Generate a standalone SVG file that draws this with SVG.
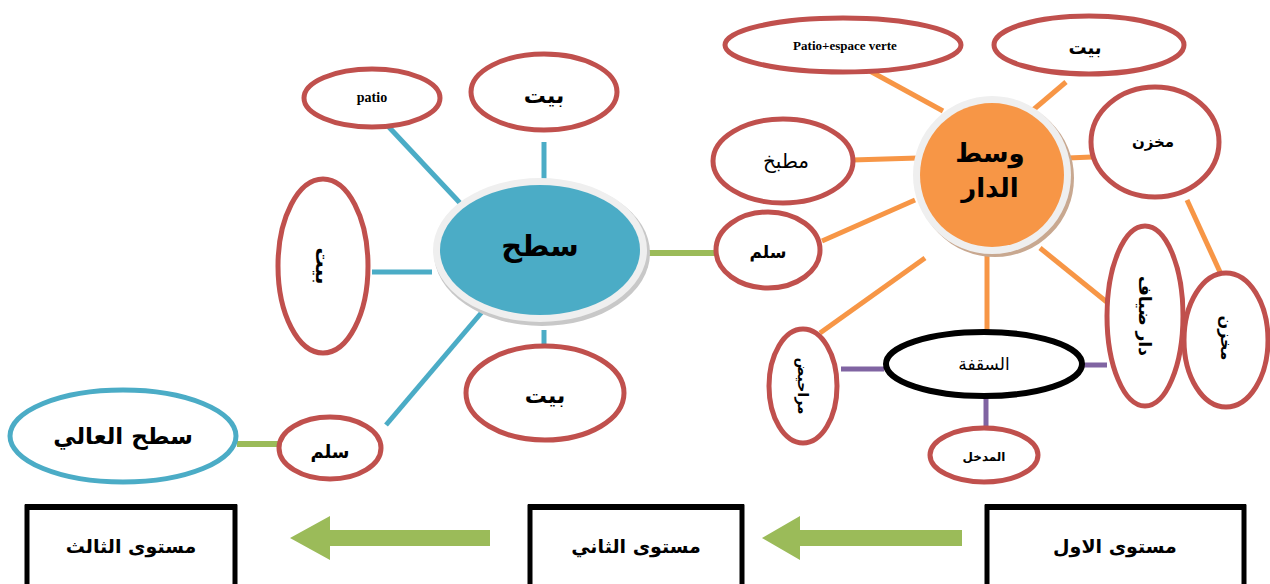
<svg xmlns="http://www.w3.org/2000/svg" width="1270" height="584" viewBox="0 0 1270 584">
<style>
.red{fill:#fff;stroke:#C0504D;stroke-width:5}
.blk{fill:#fff;stroke:#000;stroke-width:6}
.blu{fill:#fff;stroke:#4BACC6;stroke-width:5}
.ar{font-family:"DejaVu Sans",sans-serif;font-weight:bold;fill:#000;text-anchor:middle;dominant-baseline:central}
.lat{font-family:"Liberation Serif",serif;font-weight:bold;fill:#000;text-anchor:middle;dominant-baseline:central}
.cb{stroke:#4BACC6;stroke-width:5}
.co{stroke:#F79646;stroke-width:5}
.cg{stroke:#9BBB59;stroke-width:6}
.cp{stroke:#8064A2;stroke-width:5}
.box{fill:#fff;stroke:#000;stroke-width:5}
</style>
<rect width="1270" height="584" fill="#fff"/>
<g id="connectors">
<line class="cb" x1="387" y1="125" x2="460" y2="203"/>
<line class="cb" x1="544" y1="142" x2="544" y2="186"/>
<line class="cb" x1="372" y1="272" x2="432" y2="272"/>
<line class="cb" x1="544" y1="330" x2="544" y2="357"/>
<line class="cb" x1="386" y1="425" x2="482" y2="312"/>
<line class="cg" x1="648" y1="253" x2="724" y2="253"/>
<line class="cg" x1="237" y1="444" x2="282" y2="444"/>
<line class="co" x1="868" y1="70" x2="943" y2="111"/>
<line class="co" x1="1066" y1="82" x2="1033" y2="110"/>
<line class="co" x1="852" y1="160" x2="918" y2="158"/>
<line class="co" x1="1068" y1="158" x2="1092" y2="157"/>
<line class="co" x1="822" y1="241" x2="915" y2="200"/>
<line class="co" x1="987" y1="255" x2="987" y2="333"/>
<line class="co" x1="1040" y1="248" x2="1108" y2="303"/>
<line class="co" x1="820" y1="333" x2="925" y2="258"/>
<line class="co" x1="1187" y1="200" x2="1220" y2="272"/>
<line class="cp" x1="841" y1="369" x2="884" y2="369"/>
<line class="cp" x1="1068" y1="365" x2="1107" y2="365"/>
<line class="cp" x1="986" y1="398" x2="986" y2="430"/>
<polygon fill="#9BBB59" points="962,530 800,530 800,516 762,538 800,560 800,546 962,546"/>
<polygon fill="#9BBB59" points="490,530 330,530 330,516 290,538 330,560 330,546 490,546"/>
</g>
<g id="n-satah">
<ellipse cx="542" cy="253" rx="108" ry="73" fill="#c8c8c8"/>
<ellipse cx="540" cy="250" rx="107" ry="72" fill="#efefef"/>
<ellipse cx="540" cy="250" rx="100" ry="65" fill="#4BACC6"/>
<text class="ar" x="540" y="246" font-size="29">سطح</text>
</g>
<g id="n-patio"><ellipse class="red" cx="372" cy="98" rx="68" ry="29"/><text class="lat" x="372" y="97" font-size="14">patio</text></g>
<g id="n-bayt1"><ellipse class="red" cx="544" cy="92" rx="73" ry="38"/><text class="ar" x="544" y="95" font-size="22">بيت</text></g>
<g id="n-left"><ellipse class="red" cx="323" cy="266" rx="45" ry="87"/><text class="ar" x="323" y="266" font-size="20" transform="rotate(90 323 266)">بيت</text></g>
<g id="n-bayt2"><ellipse class="red" cx="545" cy="393" rx="79" ry="47"/><text class="ar" x="545" y="395" font-size="22">بيت</text></g>
<g id="n-sullam1"><ellipse class="red" cx="330" cy="448" rx="51" ry="31"/><text class="ar" x="330" y="451" font-size="18">سلم</text></g>
<g id="n-satah-ali"><ellipse class="blu" cx="123" cy="436" rx="113" ry="46"/><text class="ar" x="123" y="436" font-size="23">سطح العالي</text></g>
<g id="n-wast">
<circle cx="995" cy="178" r="79" fill="#c8a890"/>
<circle cx="992" cy="175" r="79" fill="#efefef"/>
<circle cx="992" cy="175" r="72" fill="#F79646"/>
<text class="ar" x="990" y="153" font-size="26">وسط</text>
<text class="ar" x="990" y="188" font-size="26">الدار</text>
</g>
<g id="n-sullam2"><ellipse class="red" cx="768" cy="250" rx="52" ry="38"/><text class="ar" x="768" y="252" font-size="17">سلم</text></g>
<g id="n-matbakh"><ellipse class="red" cx="783" cy="161" rx="70" ry="42"/><text class="ar" x="786" y="161" font-size="20" style="font-weight:normal">مطبخ</text></g>
<g id="n-patio2"><ellipse class="red" cx="843" cy="45" rx="118" ry="27"/><text class="lat" x="845" y="45" font-size="13">Patio+espace verte</text></g>
<g id="n-bayt3"><ellipse class="red" cx="1089" cy="45" rx="95" ry="29"/><text class="ar" x="1085" y="47" font-size="18">بيت</text></g>
<g id="n-makhzan1"><ellipse class="red" cx="1155" cy="142" rx="64" ry="55"/><text class="ar" x="1153" y="142" font-size="15">مخزن</text></g>
<g id="n-diyafa"><ellipse class="red" cx="1145" cy="316" rx="38" ry="90"/><text class="ar" x="1145" y="316" font-size="17" transform="rotate(90 1145 316)">دار ضياف</text></g>
<g id="n-makhzan2"><ellipse class="red" cx="1226" cy="340" rx="42" ry="67"/><text class="ar" x="1226" y="338" font-size="16" transform="rotate(90 1226 338)">مخزن</text></g>
<g id="n-saqifa"><ellipse class="blk" cx="984" cy="364" rx="98" ry="32"/><text class="ar" x="984" y="364" font-size="17" style="font-weight:normal">السقفة</text></g>
<g id="n-marahid"><ellipse class="red" cx="803" cy="386" rx="34" ry="57"/><text class="ar" x="803" y="386" font-size="14" transform="rotate(90 803 386)">مراحيض</text></g>
<g id="n-madkhal"><ellipse class="red" cx="984" cy="455" rx="54" ry="27"/><text class="ar" x="984" y="457" font-size="12">المدخل</text></g>
<g id="n-level3"><rect class="box" x="27" y="507" width="208" height="82"/><rect x="25" y="504" width="212" height="6" fill="#000"/><text class="ar" x="131" y="546" font-size="19">مستوى الثالث</text></g>
<g id="n-level2"><rect class="box" x="530" y="507" width="212" height="82"/><rect x="528" y="504" width="216" height="6" fill="#000"/><text class="ar" x="636" y="546" font-size="19">مستوى الثاني</text></g>
<g id="n-level1"><rect class="box" x="987" y="507" width="257" height="82"/><rect x="985" y="504" width="261" height="6" fill="#000"/><text class="ar" x="1115" y="546" font-size="19">مستوى الاول</text></g>
</svg>
